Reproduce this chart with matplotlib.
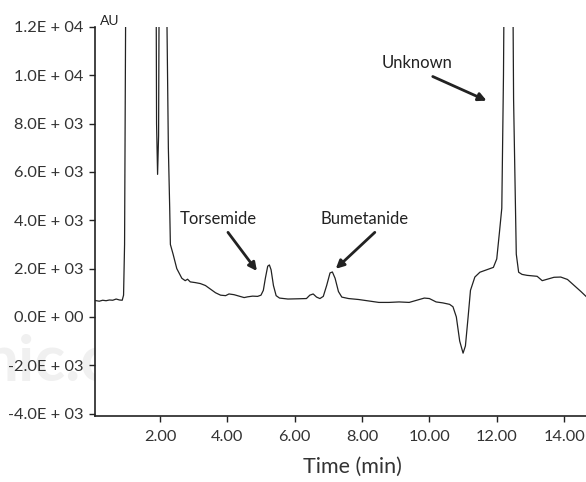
import matplotlib
matplotlib.use('Agg')
from matplotlib import pyplot as plt
from matplotlib import ticker
from matplotlib.patches import Rectangle

# chromatogram trace (time in min, signal in AU)
time = [0.07, 0.2, 0.3, 0.4, 0.5, 0.6, 0.7, 0.8, 0.88, 0.92, 0.95, 0.98, 1.0,
        1.85, 1.90, 1.93, 1.96, 2.02, 2.19, 2.21, 2.25, 2.29, 2.31, 2.39, 2.5,
        2.65, 2.75, 2.82, 2.90, 3.05, 3.2, 3.35, 3.5, 3.65, 3.8, 3.95, 4.05,
        4.2, 4.35, 4.5, 4.6, 4.75, 4.9, 5.0, 5.07, 5.13, 5.2, 5.25, 5.3, 5.37,
        5.45, 5.55, 5.8, 6.1, 6.35, 6.45, 6.55, 6.65, 6.75, 6.85, 6.95, 7.05,
        7.12, 7.2, 7.3, 7.4, 7.6, 7.9, 8.2, 8.5, 8.8, 9.1, 9.4, 9.6, 9.85,
        10.0, 10.2, 10.4, 10.6, 10.7, 10.8, 10.9, 11.0, 11.07, 11.15, 11.22,
        11.35, 11.5, 11.7, 11.9, 12.0, 12.08, 12.15, 12.2, 12.25, 12.45, 12.5,
        12.58, 12.65, 12.75, 12.9, 13.2, 13.35, 13.5, 13.7, 13.9, 14.1, 14.3,
        14.5, 14.65]
signal = [680, 650, 690, 670, 700, 690, 740, 700, 690, 900, 3000, 12000, 30000,
          30000, 8000, 5900, 7500, 30000, 30000, 12000, 7000, 4500, 3000, 2600, 2000,
          1600, 1500, 1560, 1450, 1420, 1380, 1300, 1150, 1000, 900, 880, 950,
          920, 860, 800, 830, 860, 850, 900, 1100, 1600, 2100, 2150, 1950, 1300,
          880, 780, 740, 750, 760, 900, 950, 820, 760, 850, 1300, 1820,
          1860, 1600, 1050, 820, 760, 720, 660, 600, 600, 620, 600, 680, 780,
          760, 620, 580, 520, 420, 0, -1000, -1500, -1200, 0, 1100,
          1650, 1850, 1950, 2050, 2400, 3500, 4500, 10000, 20000, 20000, 9000,
          2600, 1850, 1760, 1720, 1680, 1500, 1560, 1640, 1650, 1550, 1300,
          1050, 850]

peaks = ['Torsemide', 'Bumetanide', 'Unknown']
label_xy = [(3.72, 4060), (8.08, 4060), (9.63, 10500)]
arrow_tail = [(4.02, 3500), (8.38, 3500), (10.1, 9950)]
arrow_head = [(4.88, 1900), (7.22, 1990), (11.7, 8950)]

plt.rcParams['font.family'] = ['Lato', 'DejaVu Sans']

fig = plt.figure(figsize=(5.86, 4.82), dpi=100)
ax = fig.add_axes([0.162, 0.137, 0.838, 0.807])

# faint watermark left of the axis
wm = fig.text(-0.03, 0.21, 'nic.co', fontsize=46, fontweight='bold',
              color='#f0f0f0', zorder=-1)
clip = Rectangle((0, 0), 0.162, 1, transform=fig.transFigure)
wm.set_clip_path(clip)

ax.plot(time, signal, color='#222222', lw=0.9)
ax.set_xlim(0.07, 14.65)
ax.set_ylim(-4100, 12000)
ax.patch.set_alpha(0)

ax.spines['top'].set_visible(False)
ax.spines['right'].set_visible(False)
for s in ['left', 'bottom']:
    ax.spines[s].set_linewidth(1.2)
    ax.spines[s].set_color('#222222')

ax.set_xticks([2, 4, 6, 8, 10, 12, 14])
ax.set_yticks([-4000, -2000, 0, 2000, 4000, 6000, 8000, 10000, 12000])
ax.xaxis.set_major_formatter(ticker.FuncFormatter(lambda v, p: '%.2f' % v))


def sci(v, p):
    s = '%.1E' % v
    return s.replace('E+', 'E + ').replace('E-', 'E - ')


ax.yaxis.set_major_formatter(ticker.FuncFormatter(sci))
ax.tick_params(direction='out', length=4, width=1, color='#222222',
               labelsize=11.8, labelcolor='#333333', pad=4)
ax.tick_params(axis='x', pad=6)

ax.set_xlabel('Time (min)', fontsize=15.5, color='#333333')
ax.xaxis.set_label_coords(0.525, -0.105)
ax.text(0.01, 1.0, 'AU', transform=ax.transAxes, fontsize=10, color='#222222',
        va='bottom', ha='left')

for name, xy, tail, head in zip(peaks, label_xy, arrow_tail, arrow_head):
    ax.text(xy[0], xy[1], name, fontsize=12, color='#222222', ha='center',
            va='center')
    ax.annotate('', xy=head, xytext=tail,
                arrowprops=dict(arrowstyle='-|>', lw=2, color='#222222',
                                mutation_scale=12, shrinkA=0, shrinkB=0))

fig.savefig('out.png', dpi=100)
